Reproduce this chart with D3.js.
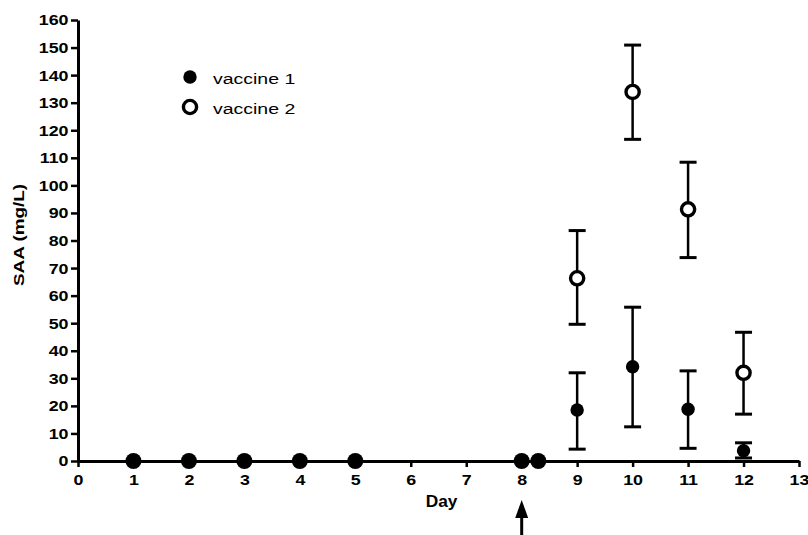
<!DOCTYPE html>
<html>
<head>
<meta charset="utf-8">
<script src="https://cdn.jsdelivr.net/npm/d3@7"></script>
<style>
  body { margin: 0; background: #fff; }
  text { font-family: "Liberation Sans", Arial, sans-serif; }
</style>
</head>
<body>
<svg id="chart"></svg>
<script>
// Data (SAA, mg/L), mean with lower/upper error bar
const v1Days  = [1, 2, 3, 4, 5, 8, 8.3, 9, 10, 11, 12];
const v1Mean  = [0, 0, 0, 0, 0, 0, 0, 18.5, 34.2, 18.8, 3.7];
const v1Low   = [0, 0, 0, 0, 0, 0, 0, 4.3, 12.4, 4.6, 1.1];
const v1High  = [0, 0, 0, 0, 0, 0, 0, 32.0, 55.8, 32.7, 6.6];

const v2Days  = [9, 10, 11, 12];
const v2Mean  = [66.3, 133.9, 91.3, 32.0];
const v2Low   = [49.6, 116.7, 73.8, 17.0];
const v2High  = [83.6, 150.9, 108.4, 46.7];

const xTicks = d3.range(0, 14);
const yTicks = d3.range(0, 161, 10);
const seriesNames = ["vaccine 1", "vaccine 2"];
const arrowDay = 8;

const width = 808, height = 535;
const margin = { top: 20, right: 9, bottom: 74, left: 78 };
const innerW = width - margin.left - margin.right;
const innerH = height - margin.top - margin.bottom;
const sx = 1.15; // glyphs in the source are drawn wider than normal

const svg = d3.select("svg#chart")
  .attr("width", width)
  .attr("height", height);

const g = svg.append("g")
  .attr("transform", `translate(${margin.left},${margin.top})`);

const xScale = d3.scaleLinear().domain([0, 13]).range([0, innerW]);
const yScale = d3.scaleLinear().domain([0, 160]).range([innerH, 0]);

// stretch text horizontally around its anchor point
function widen(sel, f) {
  sel.each(function () {
    const t = d3.select(this);
    const x = +t.attr("x") || 0, y = +t.attr("y") || 0;
    t.attr("x", 0).attr("y", 0)
      .attr("transform", `translate(${x},${y}) scale(${f},1)`);
  });
}

// Axes
const yAxisG = g.append("g")
  .call(d3.axisLeft(yScale).tickValues(yTicks).tickSize(7).tickPadding(2.5).tickSizeOuter(0));
const xAxisG = g.append("g")
  .attr("transform", `translate(0,${innerH})`)
  .call(d3.axisBottom(xScale).tickValues(xTicks).tickSize(6).tickPadding(7).tickSizeOuter(0));

[xAxisG, yAxisG].forEach(a => {
  a.select(".domain").attr("stroke", "#000").attr("stroke-width", 3);
  a.selectAll(".tick line").attr("stroke", "#000").attr("stroke-width", 2.5);
  a.selectAll(".tick text")
    .attr("fill", "#000")
    .style("font-size", "15.5px")
    .style("font-weight", "bold");
});
widen(yAxisG.selectAll(".tick text"), sx);
widen(xAxisG.selectAll(".tick text"), sx);

// Axis titles
g.append("text")
  .attr("transform", `translate(${xScale(6.5) + 3},${innerH + 46}) scale(1.08,1)`)
  .attr("text-anchor", "middle")
  .style("font-size", "16px")
  .style("font-weight", "bold")
  .text("Day");

g.append("text")
  .attr("transform", `translate(-54,${yScale(82)}) rotate(-90) scale(1.22,1)`)
  .attr("text-anchor", "middle")
  .style("font-size", "15.5px")
  .style("font-weight", "bold")
  .text("SAA (mg/L)");

// Arrow under day 8
const ax = xScale(arrowDay);
g.append("line")
  .attr("x1", ax).attr("x2", ax)
  .attr("y1", innerH + 50).attr("y2", height - margin.top)
  .attr("stroke", "#000").attr("stroke-width", 3);
g.append("path")
  .attr("d", `M${ax},${innerH + 39} L${ax - 6.5},${innerH + 57} L${ax + 6.5},${innerH + 57} Z`)
  .attr("fill", "#000");

// Error bars
function errorBars(days, low, high, mean) {
  const grp = g.append("g").attr("stroke", "#000");
  days.forEach((d, i) => {
    if (high[i] === mean[i] && low[i] === mean[i]) return;
    const x = xScale(d);
    grp.append("line")
      .attr("x1", x).attr("x2", x)
      .attr("y1", yScale(low[i])).attr("y2", yScale(high[i]))
      .attr("stroke-width", 2.5);
    [low[i], high[i]].forEach(v => {
      grp.append("line")
        .attr("x1", x - 8.5).attr("x2", x + 8.5)
        .attr("y1", yScale(v)).attr("y2", yScale(v))
        .attr("stroke-width", 3);
    });
  });
}
errorBars(v1Days, v1Low, v1High, v1Mean);
errorBars(v2Days, v2Low, v2High, v2Mean);

// Points
g.append("g").selectAll("circle")
  .data(v1Days.map((d, i) => ({ d, v: v1Mean[i] })))
  .join("circle")
  .attr("cx", p => xScale(p.d))
  .attr("cy", p => yScale(p.v))
  .attr("r", p => p.v === 0 ? 8 : 6.7)
  .attr("fill", "#000");

g.append("g").selectAll("circle")
  .data(v2Days.map((d, i) => ({ d, v: v2Mean[i] })))
  .join("circle")
  .attr("cx", p => xScale(p.d))
  .attr("cy", p => yScale(p.v))
  .attr("r", 6.6)
  .attr("fill", "#fff")
  .attr("stroke", "#000")
  .attr("stroke-width", 3.4);

// Legend
const leg = svg.append("g").attr("transform", "translate(190,77)");
seriesNames.forEach((name, i) => {
  const row = leg.append("g").attr("transform", `translate(0,${i * 30})`);
  if (i === 0) {
    row.append("circle").attr("r", 6.7).attr("fill", "#000");
  } else {
    row.append("circle").attr("r", 6.6).attr("fill", "#fff")
      .attr("stroke", "#000").attr("stroke-width", 3.4);
  }
  row.append("text")
    .attr("transform", `translate(23,7) scale(1.3,1)`)
    .style("font-size", "15px")
    .text(name);
});
</script>
</body>
</html>
